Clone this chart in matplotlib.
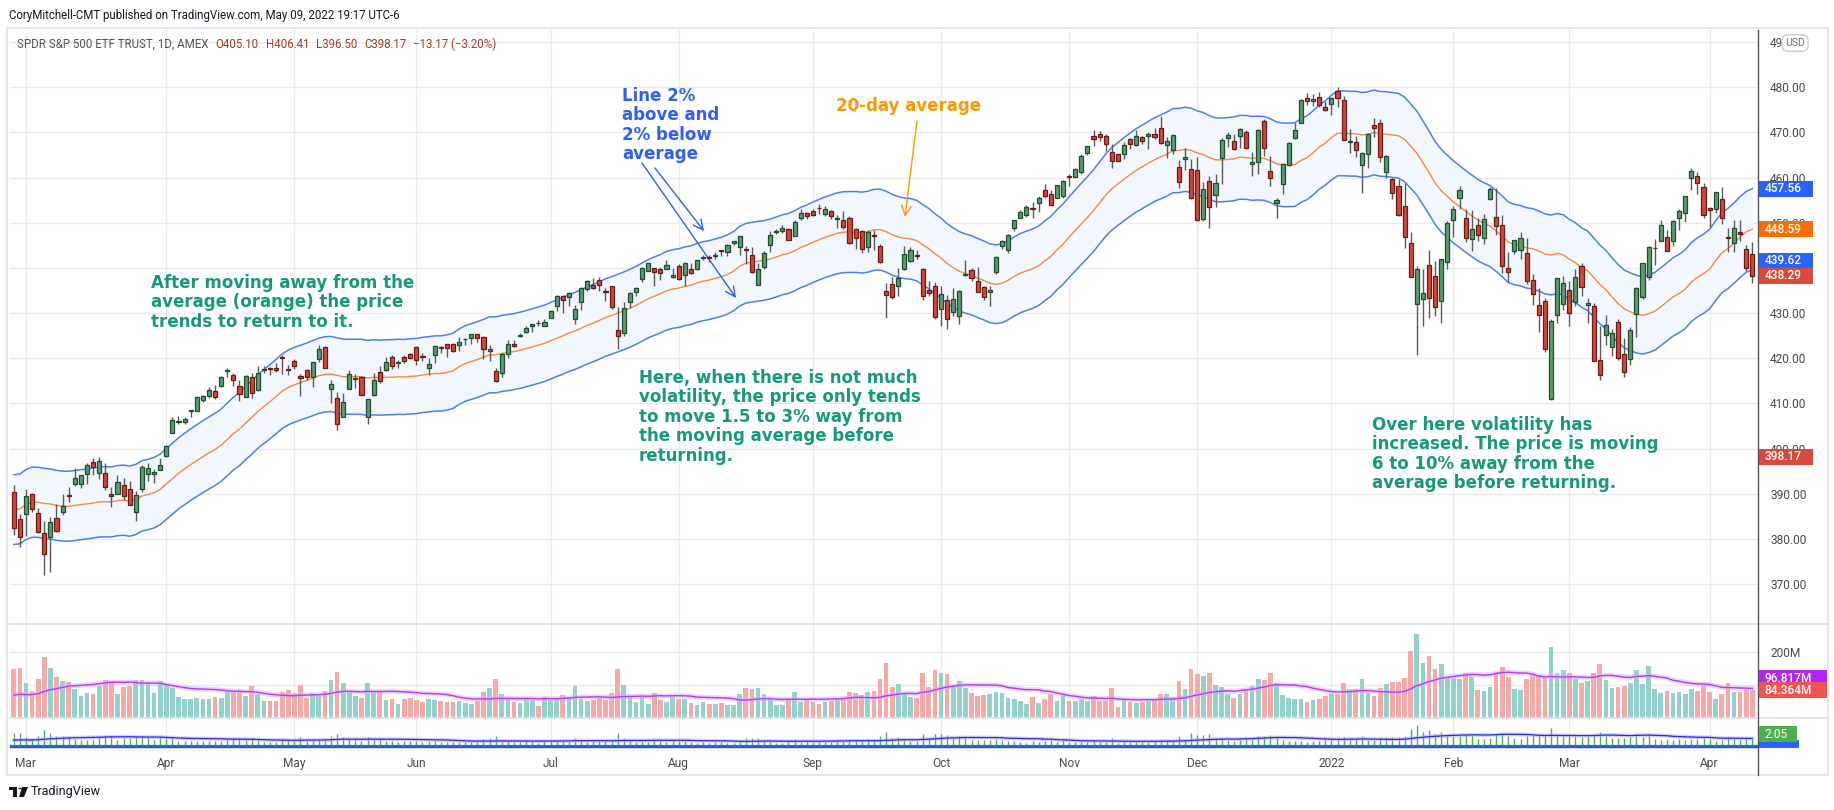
import matplotlib
matplotlib.use("Agg")
import matplotlib.pyplot as plt
from matplotlib.patches import Rectangle, Circle, Polygon
import numpy as np
import pandas as pd

# ---- data: SPY daily bars 2021-02-25 .. 2022-04-12 ----
# 19 closes / volumes before the first visible bar, for the 20-day averages
prior_closes = [377.63, 370.07, 376.23, 381.55, 381.85, 386.19, 387.71, 390.51, 390.25, 390.08,
                390.71, 392.64, 392.30, 392.39, 390.72, 390.03, 387.03, 387.50, 391.77]
prior_volumes = [94, 126, 77, 65, 52, 48, 57, 38, 35, 59, 47, 40, 51, 52, 59, 83, 67, 107, 72]

opens = [
    390.41, 384.35,
    # Mar 21
    385.59, 389.82, 385.79, 381.22, 380.46, 384.66, 385.85, 389.69, 392.23, 392.07, 394.33, 397.07,
    394.53, 394.48, 389.88, 390.03, 391.91, 391.00, 385.98, 390.93, 394.40, 394.42, 395.34,
    # Apr 21
    398.40, 403.46, 405.76, 405.94, 408.39, 408.39, 410.85, 411.53, 412.83, 413.74, 417.25, 416.26,
    413.91, 411.51, 415.89, 412.87, 417.44, 417.93, 417.81, 420.32, 417.63,
    # May 21
    419.43, 416.07, 417.38, 415.83, 419.89, 422.50, 413.10, 411.23, 407.07, 413.21, 415.39, 415.80,
    406.92, 411.80, 416.87, 417.34, 420.33, 418.87, 420.17, 420.97,
    # Jun 21
    422.57, 420.37, 417.85, 420.75, 422.59, 423.11, 423.18, 422.96, 424.20, 424.43, 425.42, 424.63,
    421.67, 417.09, 416.80, 420.85, 423.19, 424.89, 425.90, 427.17, 427.88, 427.21,
    # Jul 21
    428.87, 431.67, 433.78, 433.66, 428.78, 432.53, 435.43, 436.24, 437.40, 434.81, 436.01, 426.19,
    425.68, 432.34, 434.74, 437.52, 439.31, 439.91, 439.68, 439.82, 437.91,
    # Aug 21
    440.34, 438.44, 439.78, 439.74, 442.10, 442.46, 442.61, 443.82, 443.62, 445.59, 444.53, 444.24,
    442.96, 436.27, 440.23, 445.16, 447.97, 448.17, 448.61, 447.12, 450.97, 452.13,
    # Sep 21
    452.56, 453.32, 451.98, 452.71, 450.89, 450.70, 451.04, 448.64, 448.12, 444.62, 447.32, 444.92,
    434.88, 436.53, 436.05, 439.85, 441.44, 442.81, 439.69, 435.19, 436.02,
    # Oct 21
    430.98, 433.00, 430.24, 429.27, 438.39, 439.48, 437.16, 435.67, 434.71, 439.08, 444.75, 443.97,
    448.92, 451.13, 451.77, 453.13, 454.28, 457.20, 456.45, 455.46, 455.87,
    # Nov 21
    460.30, 460.22, 461.30, 465.36, 469.28, 469.70, 469.32, 465.58, 465.21, 465.12, 468.64, 467.15,
    469.00, 469.24, 469.61, 470.89, 467.22, 466.06, 462.34, 464.07, 462.00,
    # Dec 21
    461.64, 450.73, 459.17, 456.13, 464.41, 468.70, 468.15, 469.23, 470.19, 463.09, 463.42, 472.57,
    461.55, 454.48, 458.61, 462.79, 468.75, 472.06, 477.72, 476.98, 477.93, 475.64,
    # Jan 22
    476.30, 479.22, 477.16, 467.89, 467.95, 462.70, 465.23, 471.59, 472.19, 461.19, 459.74, 458.13,
    453.75, 445.56, 432.03, 433.06, 440.72, 438.26, 432.68, 441.24,
    # Feb 22
    450.68, 455.50, 450.95, 446.35, 449.51, 446.73, 455.22, 451.34, 449.41, 439.92, 443.73, 443.93,
    443.22, 437.33, 431.89, 432.66, 411.02, 429.61, 432.03,
    # Mar 22
    435.04, 432.37, 440.47, 431.75, 431.55, 419.62, 425.14, 422.52, 428.12, 420.89, 419.77, 429.89,
    433.59, 438.00, 444.34, 445.86, 446.91, 445.94, 451.16, 452.06, 460.02, 460.34, 457.89,
    # Apr 22
    453.31, 453.13, 455.22, 446.89, 445.59, 447.97, 444.11, 443.08,
]
highs = [
    391.88, 385.58,
    390.92, 390.07, 386.83, 384.00, 384.76, 387.68, 389.91, 391.40, 395.65, 394.21, 396.69, 397.83,
    398.12, 396.72, 391.57, 394.07, 393.46, 392.75, 390.55, 396.41, 396.75, 395.45, 398.00,
    400.67, 406.94, 407.24, 406.96, 408.58, 411.67, 411.93, 413.53, 413.96, 416.16, 417.91, 416.74,
    415.09, 416.29, 416.78, 418.25, 418.22, 418.14, 419.01, 420.72, 418.54,
    419.84, 416.60, 417.63, 419.21, 422.82, 422.74, 415.27, 412.59, 412.35, 417.49, 416.39, 416.06,
    411.05, 416.63, 418.20, 420.32, 420.71, 419.61, 420.72, 421.25,
    422.72, 421.23, 419.99, 422.92, 422.78, 423.21, 423.26, 424.63, 424.43, 425.37, 425.46, 424.87,
    423.02, 417.83, 421.06, 424.00, 424.05, 425.55, 427.09, 427.65, 428.56, 428.78,
    430.60, 434.10, 434.01, 434.76, 431.73, 435.84, 437.35, 437.84, 437.92, 435.53, 436.06, 431.41,
    432.42, 434.70, 435.72, 440.30, 441.03, 439.94, 440.30, 441.80, 440.06,
    440.93, 441.28, 441.12, 441.85, 442.94, 442.80, 443.44, 443.88, 445.26, 445.94, 447.11, 444.96,
    444.63, 441.14, 443.71, 448.23, 448.54, 449.46, 448.86, 450.65, 453.07, 452.49,
    453.11, 454.05, 453.63, 452.81, 451.67, 452.57, 451.49, 448.92, 448.34, 448.41, 448.36, 445.37,
    436.56, 437.91, 440.03, 444.89, 444.67, 444.05, 440.04, 437.04, 436.77,
    436.03, 433.96, 435.49, 435.12, 441.68, 439.89, 440.26, 436.10, 436.05, 442.66, 446.26, 447.55,
    450.71, 452.73, 453.83, 454.67, 455.90, 458.49, 457.16, 458.40, 459.56,
    460.70, 462.23, 465.15, 467.00, 470.65, 470.23, 469.57, 467.38, 465.29, 467.86, 468.81, 470.49,
    469.19, 470.01, 470.94, 473.54, 469.10, 469.57, 463.90, 466.56, 464.03,
    464.67, 459.07, 460.30, 460.79, 468.88, 470.00, 469.63, 470.90, 470.56, 465.74, 470.86, 472.87,
    464.74, 455.40, 463.21, 467.81, 472.19, 477.31, 478.81, 478.56, 479.00, 476.86,
    477.85, 479.98, 477.98, 470.82, 469.20, 465.74, 469.85, 473.20, 472.88, 465.09, 459.96, 459.61,
    458.74, 448.06, 440.38, 439.72, 444.04, 441.59, 442.00, 450.28,
    453.63, 458.12, 452.97, 452.78, 450.99, 451.92, 457.88, 457.71, 451.61, 443.50, 446.28, 448.06,
    446.57, 438.66, 435.50, 433.26, 428.76, 437.84, 438.20,
    437.17, 439.72, 441.11, 433.37, 432.30, 427.21, 429.51, 426.43, 428.77, 424.55, 426.84, 435.68,
    441.07, 444.86, 446.46, 450.58, 448.49, 450.50, 452.98, 455.91, 462.07, 461.20, 458.76,
    453.46, 456.91, 457.83, 448.93, 450.69, 450.63, 445.00, 445.75,
]
lows = [
    380.78, 378.23,
    380.57, 386.00, 381.31, 371.88, 372.64, 381.42, 385.31, 388.17, 391.74, 391.20, 392.03, 394.11,
    393.30, 390.75, 387.15, 389.97, 388.66, 387.47, 383.90, 390.29, 392.81, 392.45, 395.31,
    398.18, 403.38, 405.40, 405.45, 406.93, 408.26, 410.20, 411.12, 410.87, 413.69, 415.73, 413.79,
    410.59, 411.36, 411.13, 412.79, 416.81, 416.30, 416.90, 416.44, 416.34,
    417.67, 411.67, 415.15, 413.68, 419.16, 417.81, 410.06, 404.00, 407.02, 413.18, 413.36, 411.77,
    405.33, 411.67, 414.45, 417.08, 417.62, 417.76, 418.99, 419.79,
    418.57, 419.29, 416.28, 418.84, 421.19, 420.32, 421.41, 421.55, 422.82, 423.10, 423.54, 419.92,
    419.32, 414.70, 415.93, 420.08, 422.51, 424.62, 425.55, 425.89, 427.13, 427.18,
    428.80, 430.52, 430.01, 431.51, 427.52, 430.71, 434.97, 435.31, 434.91, 432.72, 430.92, 421.97,
    424.83, 431.01, 433.69, 436.79, 439.26, 435.99, 437.31, 439.81, 437.77,
    437.21, 436.10, 438.73, 439.45, 441.80, 441.31, 441.88, 442.62, 442.66, 445.07, 442.87, 440.85,
    438.92, 436.12, 439.71, 443.44, 447.42, 447.77, 446.16, 447.06, 450.71, 450.92,
    451.55, 451.91, 451.55, 450.74, 448.86, 448.72, 445.31, 444.11, 443.22, 443.44, 444.02, 441.02,
    428.86, 433.07, 433.75, 439.60, 441.21, 441.90, 432.94, 433.85, 428.78,
    427.23, 426.36, 429.39, 427.54, 438.20, 437.19, 434.62, 432.78, 431.54, 438.58, 444.09, 443.27,
    448.27, 451.01, 451.31, 451.05, 452.39, 455.56, 453.86, 455.45, 455.56,
    458.20, 460.08, 460.83, 464.99, 466.92, 468.20, 465.88, 462.04, 463.75, 464.11, 466.23, 467.07,
    467.48, 466.34, 468.50, 467.35, 464.45, 465.19, 457.77, 461.73, 455.30,
    450.29, 450.31, 448.92, 453.56, 458.65, 466.83, 466.14, 466.51, 466.27, 460.25, 460.74, 464.80,
    458.06, 451.14, 456.31, 462.58, 468.64, 472.01, 476.06, 475.92, 475.67, 474.67,
    473.85, 475.58, 468.28, 465.43, 464.65, 456.60, 462.05, 468.94, 463.44, 459.90, 455.31, 451.46,
    444.50, 437.95, 420.76, 427.15, 428.86, 429.45, 427.82, 439.81,
    446.94, 453.05, 445.71, 443.83, 445.85, 445.22, 455.01, 447.20, 438.94, 436.82, 443.18, 441.94,
    436.42, 431.82, 425.86, 421.35, 410.64, 427.86, 430.70,
    427.11, 431.57, 433.80, 427.88, 419.36, 415.12, 422.82, 420.44, 419.53, 415.79, 418.42, 424.80,
    433.19, 437.22, 440.68, 445.86, 443.71, 444.76, 448.43, 450.06, 457.18, 456.47, 451.16,
    449.14, 452.26, 449.82, 443.47, 443.53, 445.94, 439.39, 436.65,
]
closes = [
    382.33, 380.36,
    389.58, 386.54, 381.42, 376.70, 383.63, 381.72, 387.17, 389.58, 393.53, 394.06, 396.41, 395.91,
    397.26, 391.48, 389.48, 392.59, 389.50, 387.52, 389.70, 395.98, 395.78, 394.73, 396.33,
    400.61, 406.36, 406.12, 406.59, 408.52, 411.49, 411.64, 412.86, 411.45, 415.87, 417.26, 415.21,
    412.17, 416.07, 412.27, 416.74, 417.61, 417.52, 417.40, 420.06, 417.30,
    418.20, 415.62, 415.75, 419.07, 422.12, 417.94, 414.21, 405.41, 410.28, 416.58, 415.52, 411.94,
    410.86, 415.28, 414.94, 419.17, 418.24, 419.07, 419.29, 420.04,
    419.67, 420.33, 418.77, 422.60, 422.19, 422.28, 421.65, 423.61, 424.31, 425.26, 424.48, 422.11,
    421.97, 414.92, 420.86, 423.11, 422.60, 425.10, 426.61, 427.47, 427.70, 428.06,
    430.43, 433.72, 432.93, 434.46, 430.92, 435.52, 437.08, 435.59, 436.24, 434.75, 431.34, 424.97,
    431.06, 434.55, 435.46, 439.94, 441.02, 439.01, 438.83, 440.65, 438.51,
    437.59, 441.15, 438.98, 441.76, 442.49, 442.13, 442.68, 443.78, 445.11, 445.92, 446.97, 444.04,
    439.18, 439.86, 443.36, 447.26, 447.97, 448.91, 446.26, 450.25, 452.23, 451.56,
    451.80, 453.19, 453.08, 451.46, 450.91, 448.98, 445.44, 446.58, 444.17, 447.88, 447.17, 441.40,
    434.04, 433.63, 437.86, 443.18, 443.91, 442.64, 433.72, 434.45, 429.14,
    434.24, 428.64, 433.10, 434.90, 438.66, 437.86, 434.69, 433.62, 435.18, 442.50, 445.87, 447.19,
    450.64, 452.41, 453.59, 453.12, 455.55, 455.96, 453.94, 458.32, 459.25,
    460.04, 461.90, 464.72, 466.91, 468.53, 468.93, 467.38, 463.62, 463.77, 467.27, 467.43, 469.28,
    468.14, 469.73, 468.89, 467.57, 468.19, 469.44, 458.97, 464.60, 455.56,
    450.50, 457.40, 453.42, 458.79, 468.28, 469.52, 466.35, 470.74, 466.57, 463.36, 470.60, 466.45,
    459.87, 454.98, 463.06, 467.69, 470.60, 477.26, 476.87, 477.48, 476.16, 474.96,
    477.71, 477.55, 468.38, 467.94, 466.09, 465.51, 469.75, 471.02, 464.53, 464.72, 456.49, 451.75,
    446.75, 437.98, 439.84, 434.47, 433.38, 431.24, 441.95, 449.91,
    452.95, 457.35, 446.60, 448.70, 447.26, 450.94, 457.54, 449.32, 440.46, 439.02, 446.10, 446.60,
    437.06, 434.23, 429.57, 421.95, 428.30, 437.75, 436.63,
    429.98, 437.89, 435.71, 432.17, 419.43, 416.25, 427.41, 425.48, 420.07, 417.00, 426.17, 435.62,
    441.07, 444.52, 444.39, 449.59, 443.80, 450.49, 452.69, 455.91, 461.55, 458.70, 451.64,
    452.92, 456.80, 451.03, 446.52, 448.77, 447.57, 439.92, 438.29,
]
# volume in millions of shares
volumes = [
    148, 152,
    105, 80, 119, 183, 152, 123, 113, 109, 86, 65, 74, 73, 98, 115, 113, 73, 95, 97, 116, 114, 108, 76, 112,
    99, 91, 62, 57, 57, 61, 56, 56, 62, 60, 82, 78, 81, 66, 97, 73, 52, 51, 50, 78, 85,
    75, 101, 59, 74, 67, 80, 116, 138, 106, 82, 65, 60, 106, 78, 79, 53, 57, 43, 56, 59,
    55, 49, 58, 55, 51, 47, 48, 52, 45, 42, 51, 79, 90, 118, 73, 57, 49, 45, 58, 53, 35, 64,
    53, 57, 68, 63, 97, 57, 52, 53, 59, 55, 75, 148, 99, 65, 48, 63, 43, 76, 53, 47, 68,
    58, 58, 46, 38, 47, 41, 43, 45, 39, 39, 73, 92, 89, 92, 72, 56, 38, 40, 58, 77, 48, 58,
    47, 42, 48, 51, 56, 58, 78, 75, 70, 78, 80, 118, 166, 93, 103, 76, 62, 61, 136, 95, 146,
    136, 134, 95, 113, 90, 75, 66, 68, 72, 79, 76, 60, 57, 50, 41, 64, 46, 57, 72, 52, 71,
    51, 51, 56, 52, 66, 51, 52, 91, 34, 53, 47, 46, 47, 50, 57, 73, 73, 62, 112, 87, 148,
    132, 127, 137, 99, 95, 72, 61, 73, 87, 97, 117, 116, 135, 107, 70, 59, 57, 57, 47, 54, 56, 65,
    72, 71, 105, 86, 86, 119, 74, 67, 92, 104, 109, 110, 122, 202, 252, 167, 186, 147, 164, 125,
    123, 118, 137, 124, 84, 82, 93, 140, 153, 123, 89, 85, 118, 132, 131, 124, 213, 135, 146,
    137, 117, 105, 113, 137, 164, 116, 90, 95, 96, 106, 144, 102, 157, 87, 74, 81, 75, 77, 72, 86, 80, 100,
    78, 58, 73, 107, 78, 79, 89, 84.364,
]

month_labels = ["Mar", "Apr", "May", "Jun", "Jul", "Aug", "Sep", "Oct", "Nov", "Dec",
                "2022", "Feb", "Mar", "Apr"]
month_starts = [2, 25, 46, 66, 88, 109, 131, 152, 173, 194, 216, 236, 255, 278]

price_ticks = list(range(370, 500, 10))
band_pct = 2.0
quote_title = "SPDR S&P 500 ETF TRUST, 1D, AMEX"
quote_values = ["O405.10", "H406.41", "L396.50", "C398.17", "\u221213.17 (\u22123.20%)"]
quote_close = 398.17
vol_ma_label = "96.817M"
ind_label = "2.05"

# ---- derived series ----
closes_all = pd.Series(prior_closes + closes)
sma = closes_all.rolling(20).mean().to_numpy()[len(prior_closes):]
upper = sma * (1 + band_pct / 100)
lower = sma * (1 - band_pct / 100)
vol_all = pd.Series(prior_volumes + volumes)
vol_ma = vol_all.rolling(20).mean().to_numpy()[len(prior_volumes):]

o, h, l, c = (np.array(a) for a in (opens, highs, lows, closes))
v = np.array(volumes)
x = np.arange(len(c))
up = c >= o

# ---- layout (pixel based) ----
W, H = 1834, 810
plt.rcParams["font.family"] = ["DejaVu Sans"]
fig = plt.figure(figsize=(W / 100, H / 100), dpi=100)
fig.patch.set_facecolor("white")


def box(x0, y0, x1, y1):
    return [x0 / W, 1 - y1 / H, (x1 - x0) / W, (y1 - y0) / H]


def fpt(px, py):
    return px / W, 1 - py / H


PL, PR = 10, 1757.5
ax = fig.add_axes(box(PL, 30, PR, 624))
axv = fig.add_axes(box(PL, 624, PR, 718), sharex=ax)
axi = fig.add_axes(box(PL, 718, PR, 747), sharex=ax)

GRID = "#ebebee"
AXIS_TXT = "#4a4a4a"
UI_FONT = ["Roboto", "DejaVu Sans"]
UP, UP_EDGE = "#5b9b6f", "#1f4e2f"
DN, DN_EDGE = "#d0483a", "#6d1a12"
WICK = "#5a5a5a"

for a in (ax, axv, axi):
    for s in a.spines.values():
        s.set_visible(False)
    a.set_facecolor("white")
    a.set_xticks(month_starts)
    a.grid(axis="x", color=GRID, lw=1)
    a.tick_params(axis="x", length=0, labelbottom=False)
    a.set_axisbelow(True)

ax.set_xlim(-0.62, 285.85)

# price pane
ax.set_ylim(361.13, 492.69)
ax.set_yticks(price_ticks)
ax.yaxis.tick_right()
ax.tick_params(axis="y", length=0, pad=9, labelsize=8.6, labelcolor=AXIS_TXT)
ax.yaxis.set_major_formatter(matplotlib.ticker.FormatStrFormatter("%.2f"))
for t in ax.get_yticklabels():
    t.set_family(UI_FONT)
ax.grid(axis="y", color=GRID, lw=1)

ax.fill_between(x, lower, upper, color="#f2f7fd", lw=0, zorder=1)
ax.plot(x, upper, color="#4f7df5", lw=1.1, zorder=2)
ax.plot(x, lower, color="#4f7df5", lw=1.1, zorder=2)
ax.plot(x, sma, color="#f68a3d", lw=1.0, zorder=2)

ax.vlines(x, l, h, color=WICK, lw=1, zorder=3)
body_lo = np.minimum(o, c)
body_h = np.maximum(np.abs(c - o), 0.15)
ax.bar(x[up], body_h[up], bottom=body_lo[up], width=0.68, color=UP,
       edgecolor=UP_EDGE, lw=0.9, zorder=4)
ax.bar(x[~up], body_h[~up], bottom=body_lo[~up], width=0.68, color=DN,
       edgecolor=DN_EDGE, lw=0.9, zorder=4)

# volume pane (the 100M label sits under the value tags, so only 200M is written)
axv.set_ylim(0, 283.6)
axv.set_yticks([100, 200])
axv.grid(axis="y", color=GRID, lw=1)
axv.yaxis.tick_right()
axv.set_yticklabels(["", "200M"])
axv.tick_params(axis="y", length=0, pad=9, labelsize=8.6, labelcolor=AXIS_TXT)
for t in axv.get_yticklabels():
    t.set_family(UI_FONT)
axv.bar(x, v, width=0.78, color=np.where(up, "#92d2cc", "#f7a9a7"), lw=0, zorder=2)
axv.plot(x, vol_ma, color="#dcb0f7", lw=3.5, alpha=0.55, zorder=3)
axv.plot(x, vol_ma, color="#b53cf0", lw=1.0, zorder=3)

# lower indicator pane
axi.set_ylim(-12, 330)
axi.set_yticks([])
axi.vlines(x, 0, v, color="#4caf50", lw=1, zorder=2)
axi.plot(x, vol_ma, color="#b3acf5", lw=2.8, alpha=0.55, zorder=3)
axi.plot(x, vol_ma, color="#2a2ae8", lw=0.9, zorder=3)
axi.axhline(-4, color="#2962ff", lw=1.6, zorder=3)
axi.tick_params(axis="x", labelbottom=True, pad=7, labelsize=8.6, labelcolor=AXIS_TXT)
axi.set_xticklabels(month_labels)
for t in axi.get_xticklabels():
    t.set_family(UI_FONT)

# frame lines
frame = "#e0e3eb"
fig.add_artist(Rectangle(fpt(7, 775), 1821 / W, 747 / H, transform=fig.transFigure,
                         fill=False, ec=frame, lw=1.2, zorder=0))
for yy in (624, 718):
    fig.add_artist(plt.Line2D([PL / W, 1828 / W], [1 - yy / H] * 2, color=frame, lw=1.3))
fig.add_artist(plt.Line2D([PR / W] * 2, [1 - 30 / H, 1 - 775 / H], color="#50535e", lw=1))
fig.add_artist(plt.Line2D([PL / W, PR / W], [1 - 747 / H] * 2, color="#50535e", lw=1))


# value tags on the right scale
def tag(axis, value, text, fc, dy=0, width=54):
    yp = axis.transData.transform((0, value))[1] + dy
    fig.add_artist(Rectangle(((PR + 1) / W, (yp - 8) / H), width / W, 16 / H,
                             transform=fig.transFigure, fc=fc, ec="none", zorder=6))
    fig.text((PR + 7) / W, yp / H, text, color="white", fontsize=8.6, va="center",
             ha="left", family=UI_FONT, fontweight="medium", zorder=7)


tag(ax, upper[-1], f"{upper[-1]:.2f}", "#2962ff")
tag(ax, sma[-1], f"{sma[-1]:.2f}", "#ff6d00")
tag(ax, lower[-1], f"{lower[-1]:.2f}", "#2962ff", dy=9)
tag(ax, c[-1], f"{c[-1]:.2f}", "#d84a3b")
tag(ax, quote_close, f"{quote_close:.2f}", "#d84a3b")
tag(axv, vol_ma[-1], vol_ma_label, "#b225f5", dy=10, width=68)
tag(axv, v[-1], f"{v[-1]:.3f}M", "#f05350", width=68)
fig.add_artist(Rectangle(((PR + 1) / W, 1 - 748 / H), 40 / W, 8 / H,
                         transform=fig.transFigure, fc="#2962ff", ec="none", zorder=6))
fig.add_artist(Rectangle(((PR + 1) / W, 1 - 742 / H), 38 / W, 16 / H,
                         transform=fig.transFigure, fc="#4caf50", ec="none", zorder=6))
fig.text((PR + 7) / W, 1 - 734 / H, ind_label, color="white", fontsize=8.6, va="center",
         family=UI_FONT, zorder=7)

fig.text(*fpt(1795, 43), "USD", color="#6a6d78", fontsize=7.6, ha="center", va="center",
         family=UI_FONT, zorder=8,
         bbox=dict(boxstyle="round,pad=0.3,rounding_size=0.6", fc="white", ec="#c9ccd4", lw=1))

# header
fig.text(*fpt(9, 15), "CoryMitchell-CMT published on TradingView.com, May 09, 2022 19:17 UTC-6",
         fontsize=8.3, color="#131722", va="center", family=UI_FONT)
prev = fig.text(*fpt(17, 44), quote_title, fontsize=8.3, color="#50535e", va="center",
                family=UI_FONT)
for s in quote_values:
    prev = ax.annotate(s, xy=(1, 0.5), xycoords=prev, xytext=(5, 0), textcoords="offset points",
                       va="center", fontsize=8.3, color="#a3392c",
                       family=UI_FONT, annotation_clip=False)

# notes on the chart
GREEN_TXT = "#16997b"
note_kw = dict(fontsize=12.0, fontweight="bold", va="top", ha="left", linespacing=1.1)
fig.text(*fpt(151, 274), "After moving away from the\naverage (orange) the price\ntrends to return to it.",
         color=GREEN_TXT, **note_kw)
fig.text(*fpt(639, 369), "Here, when there is not much\nvolatility, the price only tends\n"
         "to move 1.5 to 3% way from\nthe moving average before\nreturning.", color=GREEN_TXT, **note_kw)
fig.text(*fpt(1372, 416), "Over here volatility has\nincreased. The price is moving\n"
         "6 to 10% away from the\naverage before returning.", color=GREEN_TXT, **note_kw)
fig.text(*fpt(622, 87), "Line 2%\nabove and\n2% below\naverage", color="#2f5ef7", **note_kw)
fig.text(*fpt(836, 97), "20-day average", color="#ff9800", **note_kw)

arrow_kw = dict(xycoords="figure pixels", textcoords="figure pixels")
for (x0, y0), (x1, y1), col in [((655, 168), (704, 231), "#2f5ef7"),
                                ((642, 163), (736, 298), "#2f5ef7"),
                                ((917, 121), (905, 217), "#ff9800")]:
    ax.annotate("", xy=(x1, H - y1), xytext=(x0, H - y0), annotation_clip=False,
                arrowprops=dict(arrowstyle="->,head_length=0.7,head_width=0.35", color=col, lw=1,
                                shrinkA=0, shrinkB=0), **arrow_kw)

# TradingView footer logo
fig.add_artist(Rectangle(fpt(9, 790), 8 / W, 3 / H, transform=fig.transFigure, fc="#131722", ec="none"))
fig.add_artist(Rectangle(fpt(13, 797), 4 / W, 10 / H, transform=fig.transFigure, fc="#131722", ec="none"))
fig.add_artist(Circle(fpt(20, 788.5), 1.6 / W, transform=fig.transFigure, fc="#131722", ec="none"))
fig.add_artist(Polygon([fpt(22, 787), fpt(28, 787), fpt(24, 797), fpt(19, 797)],
                       transform=fig.transFigure, fc="#131722", ec="none"))
fig.text(*fpt(31, 792), "TradingView", fontsize=9, color="#131722", va="center",
         family=UI_FONT)

fig.savefig("out.png", dpi=100, facecolor="white")
